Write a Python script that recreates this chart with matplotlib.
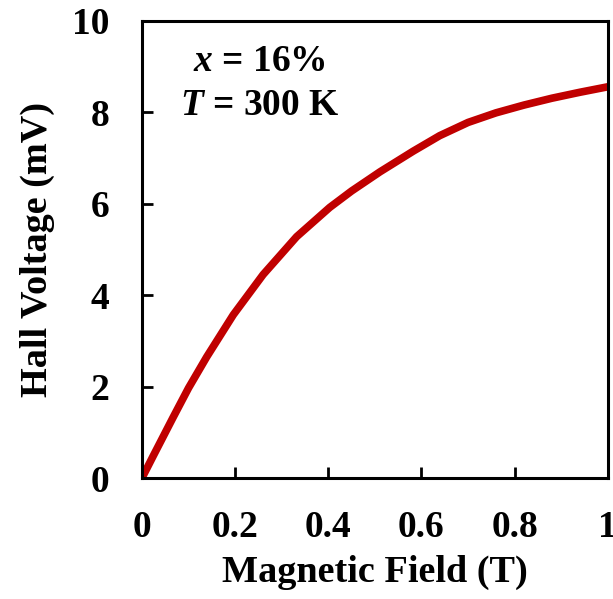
import matplotlib
matplotlib.use("Agg")
import matplotlib.pyplot as plt

# Hall voltage vs magnetic field
field_T = [0.0, 0.024, 0.067, 0.100, 0.139, 0.196, 0.260, 0.332, 0.403, 0.450,
           0.511, 0.582, 0.639, 0.700, 0.760, 0.820, 0.880, 0.940, 1.0]
hall_mV = [0.0, 0.48, 1.33, 1.97, 2.65, 3.57, 4.45, 5.28, 5.92, 6.28,
           6.70, 7.15, 7.49, 7.78, 7.99, 8.16, 8.31, 8.44, 8.56]

x_ticks = [0, 0.2, 0.4, 0.6, 0.8, 1]
x_ticklabels = ["0", "0.2", "0.4", "0.6", "0.8", "1"]
y_ticks = [0, 2, 4, 6, 8, 10]

plt.rcParams.update(
    {
        "font.family": "Liberation Serif",
        "font.weight": "bold",
        "font.size": 27,
        "mathtext.fontset": "custom",
        "mathtext.rm": "Liberation Serif:bold",
        "mathtext.it": "Liberation Serif:italic:bold",
        "mathtext.bf": "Liberation Serif:bold",
    }
)

fig = plt.figure(figsize=(6.13, 5.99), dpi=100)
ax = fig.add_axes([0.2316, 0.202, 0.760, 0.763])

ax.plot(field_T, hall_mV, color="#C00000", linewidth=5.5, solid_capstyle="round")

ax.set_xlim(0, 1)
ax.set_ylim(0, 10)
ax.set_xticks(x_ticks)
ax.set_xticklabels(x_ticklabels)
ax.set_yticks(y_ticks)
for s in ax.spines.values():
    s.set_linewidth(2.2)
ax.tick_params(direction="in", length=8, width=2, labelsize=27)
ax.tick_params(axis="x", pad=23)
ax.tick_params(axis="y", pad=23.5)

ax.set_xlabel("Magnetic Field (T)", fontsize=27.5, fontweight="bold", labelpad=7)
ax.set_ylabel("Hall Voltage (mV)", fontsize=27.5, fontweight="bold", labelpad=12)

ax.text(0.253, 0.912, r"$x$ = 16%", transform=ax.transAxes, ha="center",
        va="center", fontsize=27)
ax.text(0.253, 0.814, r"$T$ = 300 K", transform=ax.transAxes, ha="center",
        va="center", fontsize=27)

fig.savefig("out.png", dpi=100)
